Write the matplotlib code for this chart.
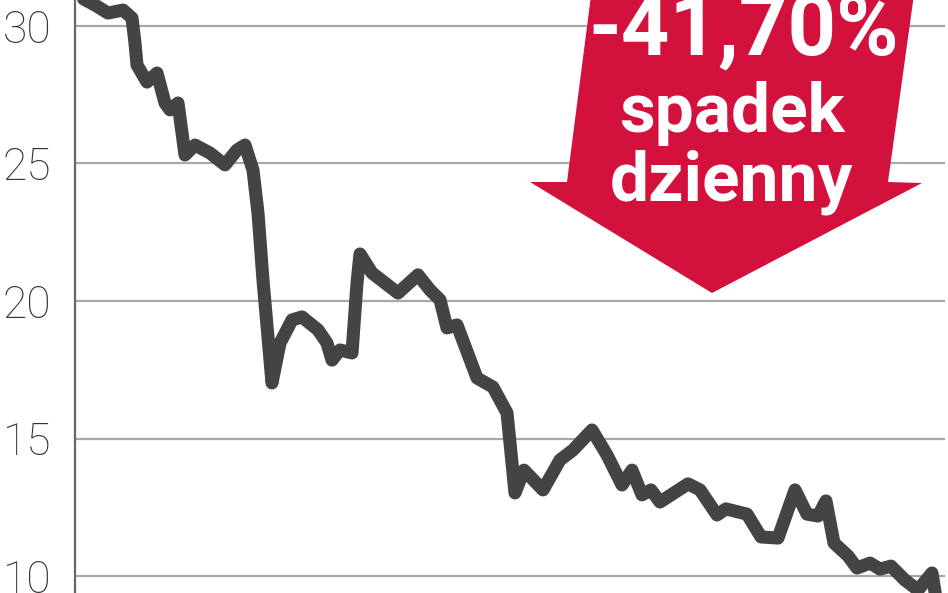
import numpy as np
import matplotlib
matplotlib.use("Agg")
import matplotlib.pyplot as plt
from matplotlib.patches import Polygon

# session index (roughly one step per pixel column of the original) and price
sessions = [3, 20, 33, 48, 57, 60, 62, 72, 82, 90, 95, 103, 110, 120, 135, 150,
            162, 170, 178, 183, 188, 197, 205, 217, 227, 243, 252, 257, 265, 277,
            282, 285, 297, 323, 343, 355, 365, 372, 382, 402, 418, 432, 440, 449,
            468, 485, 498, 517, 532, 547, 557, 567, 576, 585, 613, 625, 642, 651,
            672, 686, 703, 720, 732, 743, 751, 759, 773, 782, 795, 805, 816, 830,
            843, 857, 861]
prices = [31.09, 30.76, 30.47, 30.58, 30.29, 29.38, 28.58, 27.96, 28.29, 27.20,
          26.95, 27.20, 25.31, 25.67, 25.38, 24.95, 25.49, 25.67, 24.76, 23.20,
          20.76, 17.02, 18.47, 19.31, 19.42, 18.95, 18.47, 17.85, 18.22, 18.11,
          20.65, 21.71, 21.02, 20.29, 20.95, 20.40, 20.04, 19.02, 19.13, 17.20,
          16.87, 15.93, 13.02, 13.85, 13.13, 14.22, 14.58, 15.31, 14.40, 13.31,
          13.85, 12.95, 13.13, 12.69, 13.35, 13.13, 12.22, 12.44, 12.25, 11.42,
          11.38, 13.13, 12.25, 12.18, 12.73, 11.20, 10.73, 10.29, 10.47, 10.25,
          10.36, 9.85, 9.49, 10.11, 9.20]
y_ticks = [10, 15, 20, 25, 30]
badge_lines = ["-41,70%", "spadek", "dzienny"]

W, H = 948, 593
fig = plt.figure(figsize=(W / 100, H / 100), dpi=100)
ax = fig.add_axes([75 / W, 0, 870 / W, 1])

ax.set_xlim(0, 870)
ax.set_ylim(9.382, 30.945)
ax.set_yticks(y_ticks)
ax.set_yticklabels([str(t) for t in y_ticks], fontsize=32, color="#333333",
                   family="Roboto", fontweight="light")
ax.set_xticks([])
ax.tick_params(axis="y", length=0, pad=17)
ax.grid(axis="y", color="#a8a8a8", linewidth=1.6)
ax.set_axisbelow(True)
for s in ["top", "right", "bottom"]:
    ax.spines[s].set_visible(False)
ax.spines["left"].set_color("#666666")
ax.spines["left"].set_linewidth(1.6)

ax.plot(sessions, prices, color="#444444", linewidth=9.4,
        solid_joinstyle="round", solid_capstyle="round", zorder=3)

# red arrow badge (pixel outline of the original, converted to figure fraction)
arrow_px = [(593, -20), (916, -20), (888, 182), (922, 183), (712, 293),
            (530, 182), (567, 182)]
arrow = Polygon([(x / W, 1 - y / H) for x, y in arrow_px], closed=True,
                transform=fig.transFigure, facecolor="#d3113d", edgecolor="none",
                zorder=5)
fig.patches.append(arrow)

fig.text(744 / W, 1 - 55 / H, badge_lines[0], color="white", fontsize=61,
         fontweight="bold", family="Roboto", ha="center", va="baseline", zorder=6)
fig.text(732 / W, 1 - 132 / H, badge_lines[1], color="white", fontsize=50,
         fontweight="bold", family="Roboto", ha="center", va="baseline", zorder=6)
fig.text(731 / W, 1 - 200 / H, badge_lines[2], color="white", fontsize=50,
         fontweight="bold", family="Roboto", ha="center", va="baseline", zorder=6)

fig.savefig("out.png", dpi=100)
